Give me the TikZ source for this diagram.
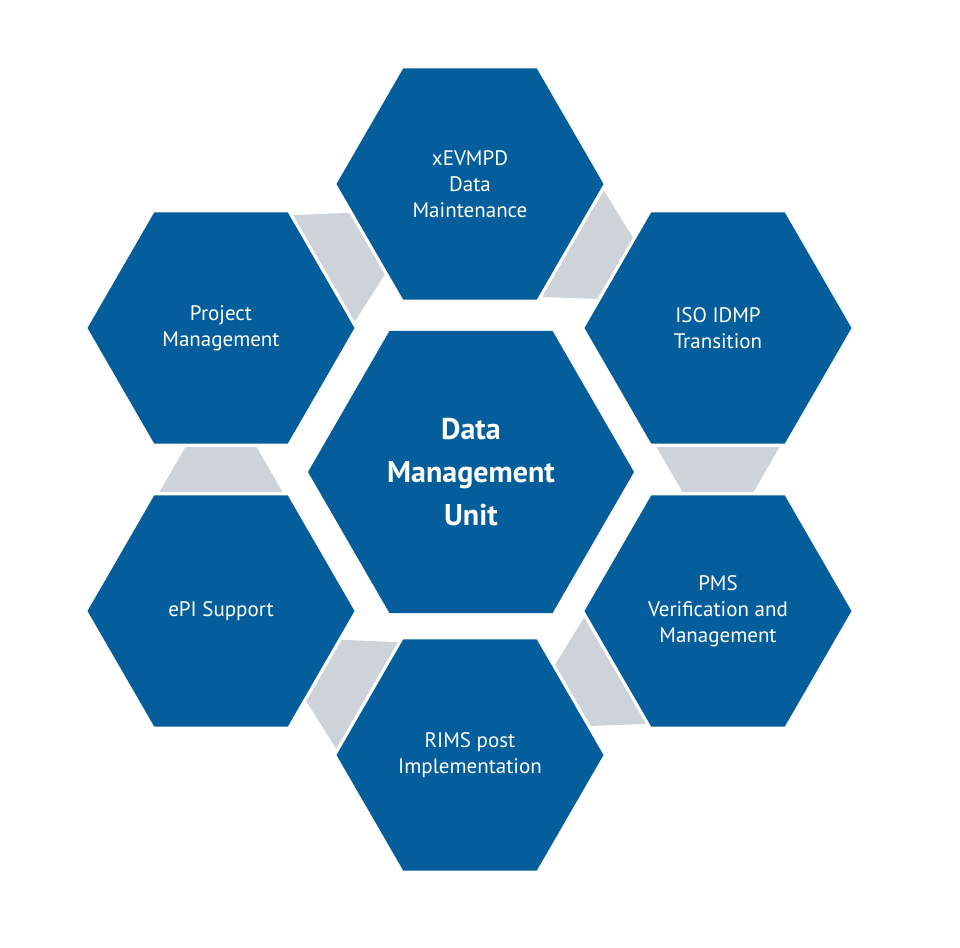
\documentclass[tikz,border=0pt]{standalone}
\usepackage{fontspec}
\setmainfont{PT Sans}
\usetikzlibrary{calc}
\definecolor{hexblue}{HTML}{045E9C}
\definecolor{linkgray}{HTML}{CED3DA}
\tikzset{
  lbl/.style={text=white, align=center, font=\fontsize{21}{26}\selectfont},
  biglbl/.style={text=white, align=center, font=\fontsize{30}{43}\selectfont\bfseries},
}
\begin{document}
\begin{tikzpicture}[x=1pt,y=-1pt]
\useasboundingbox (0,0) rectangle (960,947);
\fill[white] (0,0) rectangle (960,947);
\coordinate (c) at (471,472);
\coordinate (t) at (470,184);
\coordinate (ur) at (718,328);
\coordinate (lr) at (718,611);
\coordinate (b) at (470,755);
\coordinate (ll) at (221,611);
\coordinate (ul) at (221,328);
% gray links
\foreach \a/\b in {t/ur, ur/lr, lr/b, b/ll, ll/ul, ul/t}{
  \coordinate (p1) at ($(\a)!119pt!(\b)$);
  \coordinate (p2) at ($(\b)!119pt!(\a)$);
  \fill[linkgray] ($(p1)!61.5pt!90:(\b)$) -- ($(p1)!61.5pt!-90:(\b)$)
     -- ($(p2)!35.5pt!90:(\a)$) -- ($(p2)!35.5pt!-90:(\a)$) -- cycle;
}
% hexagons
\foreach \p/\r in {c/163, t/133.5, ur/133.5, lr/133.5, b/133.5, ll/133.5, ul/133.5}{
  \fill[hexblue] (\p) +(0:\r pt) -- +(60:\r pt) -- +(120:\r pt) -- +(180:\r pt)
     -- +(240:\r pt) -- +(300:\r pt) -- cycle;
}
\node[biglbl] (nc) at (c) {Data\\Management\\Unit};
\node[lbl] (nt) at (t) {xEVMPD\\ Data\\ Maintenance};
\node[lbl] (nur) at (ur) {ISO IDMP\\Transition};
\node[lbl] (nlr) at (lr) {PMS\\Verification and\\Management};
\node[lbl] (nb) at (b) {RIMS post\\Implementation};
\node[lbl] (nll) at (ll) {ePI Support};
\node[lbl] (nul) at (ul) {Project\\Management};
\end{tikzpicture}
\end{document}
